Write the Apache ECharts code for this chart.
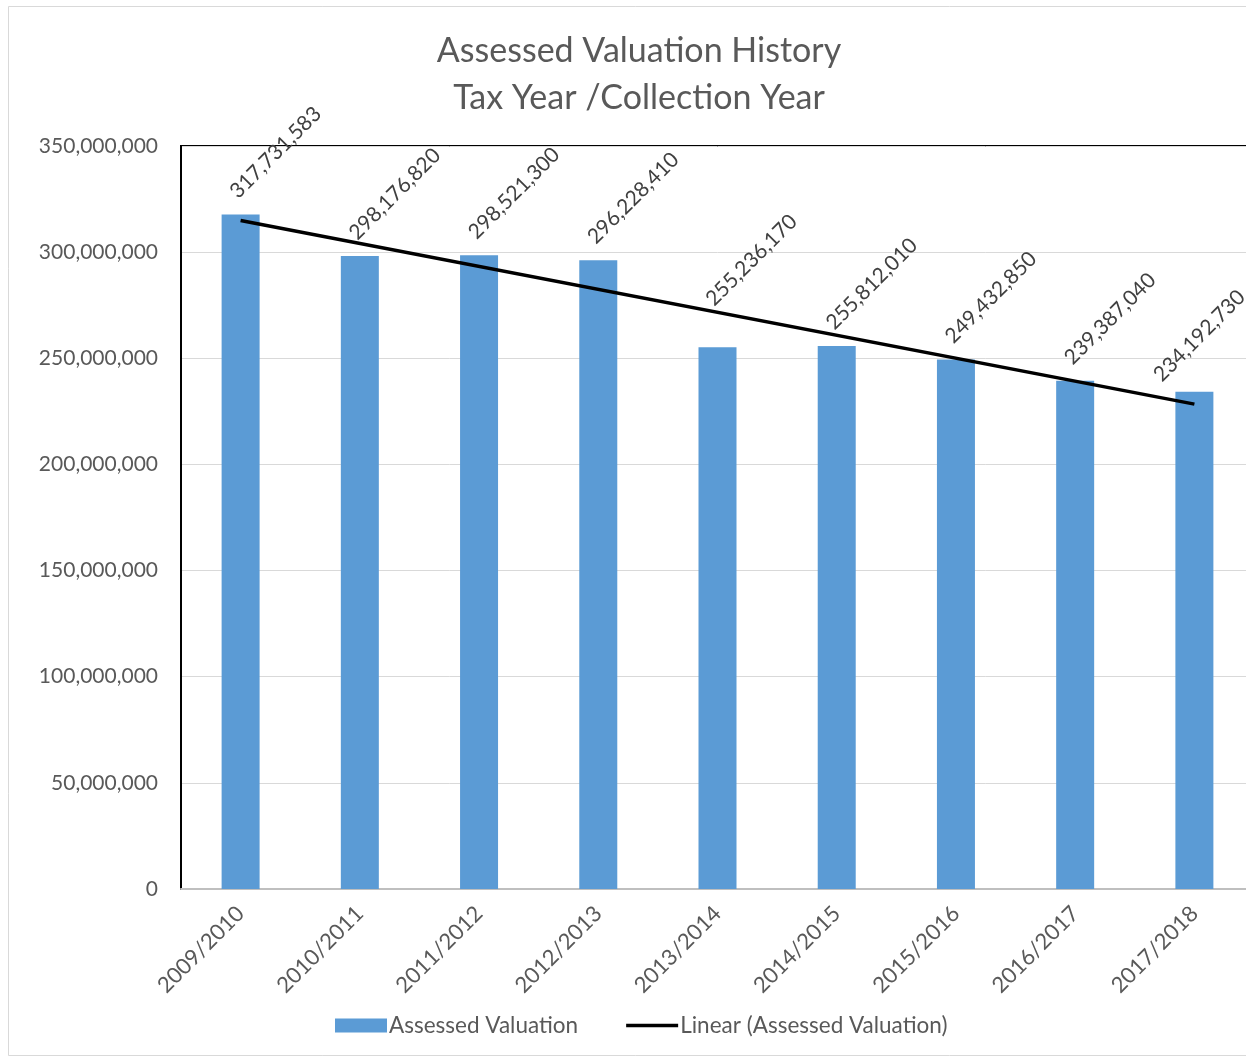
<!DOCTYPE html>
<html>
<head>
<meta charset="utf-8">
<script src="https://cdn.jsdelivr.net/npm/echarts@6/dist/echarts.min.js"></script>
<style>
html,body{margin:0;padding:0;background:#fff;overflow:hidden;}
#chart{width:1262px;height:1059px;}
</style>
</head>
<body>
<div id="chart"></div>
<script>
const categories = ['2009/2010','2010/2011','2011/2012','2012/2013','2013/2014','2014/2015','2015/2016','2016/2017','2017/2018'];
const assessedValues = [317731583, 298176820, 298521300, 296228410, 255236170, 255812010, 249432850, 239387040, 234192730];
// trendline endpoints (first and last category)
const trendPoints = [[0, 314900000], [8, 228400000]];
const yTicks = { min: 0, max: 350000000, interval: 50000000 };

const FONT = 'Lato, "Open Sans", sans-serif';
const chart = echarts.init(document.getElementById('chart'), null, { renderer: 'canvas' });
const fmt = v => Number(v).toLocaleString('en-US');

// label placement (style only): screen-space shift of the label centre from the bar top
const LABEL_ROT = 45;
const labelShiftDefault = [35, -62];
const labelShiftOverride = { 4: [34, -87], 8: [5, -56] };
// ECharts applies label offset in the rotated text frame; convert screen shift to that frame
function toTextFrame(s) {
  const t = LABEL_ROT * Math.PI / 180;
  return [s[0] * Math.cos(t) - s[1] * Math.sin(t), s[0] * Math.sin(t) + s[1] * Math.cos(t)];
}

const barData = assessedValues.map((v, i) => {
  const item = { value: v };
  if (labelShiftOverride[i]) item.label = { offset: toTextFrame(labelShiftOverride[i]) };
  return item;
});

chart.setOption({
  animation: false,
  backgroundColor: '#fff',
  textStyle: { fontFamily: FONT },
  title: {
    text: 'Assessed Valuation History\nTax Year /Collection Year',
    left: 634, top: 23, textAlign: 'center',
    textStyle: { fontFamily: FONT, fontSize: 34, fontWeight: 'normal', color: '#595959', lineHeight: 47 }
  },
  graphic: [{
    type: 'rect', shape: { x: 8.5, y: 6.5, width: 1300, height: 1049 },
    style: { fill: 'none', stroke: '#D9D9D9', lineWidth: 1 }, silent: true, z: -10
  }],
  legend: {
    bottom: 17, left: 330,
    itemWidth: 52, itemHeight: 14, itemGap: 48,
    textStyle: { fontFamily: FONT, fontSize: 22.5, color: '#595959', padding: [0, 0, 0, -3] },
    data: [
      { name: 'Assessed Valuation', icon: 'rect' },
      { name: 'Linear (Assessed Valuation)', icon: 'path://M0,0L54,0L54,3.5L0,3.5Z' }
    ]
  },
  grid: { left: 181, top: 146, right: 8, bottom: 170, show: true, borderColor: '#000', borderWidth: 2, containLabel: false },
  xAxis: {
    type: 'category', data: categories,
    axisLine: { lineStyle: { color: '#BFBFBF', width: 2 } },
    axisTick: { show: false },
    axisLabel: { rotate: 45, fontFamily: FONT, fontSize: 22, color: '#595959', margin: 21 }
  },
  yAxis: {
    type: 'value', min: yTicks.min, max: yTicks.max, interval: yTicks.interval,
    axisLine: { show: true, lineStyle: { color: '#000', width: 2 } },
    axisTick: { show: false },
    splitLine: { lineStyle: { color: '#D9D9D9', width: 1 } },
    axisLabel: { fontFamily: FONT, fontSize: 21, color: '#595959', margin: 23, formatter: fmt }
  },
  series: [
    {
      name: 'Assessed Valuation', type: 'bar', data: barData,
      barWidth: 38,
      itemStyle: { color: '#5B9BD5' },
      label: {
        show: true, position: 'top', distance: 0, rotate: LABEL_ROT, align: 'center', verticalAlign: 'middle',
        offset: toTextFrame(labelShiftDefault),
        fontFamily: FONT, fontSize: 21, color: '#404040', formatter: p => fmt(p.value)
      }
    },
    {
      name: 'Linear (Assessed Valuation)', type: 'line', data: trendPoints,
      symbol: 'none', lineStyle: { color: '#000', width: 3.5 }, itemStyle: { color: '#000' }, z: 5
    }
  ]
});
</script>
</body>
</html>
